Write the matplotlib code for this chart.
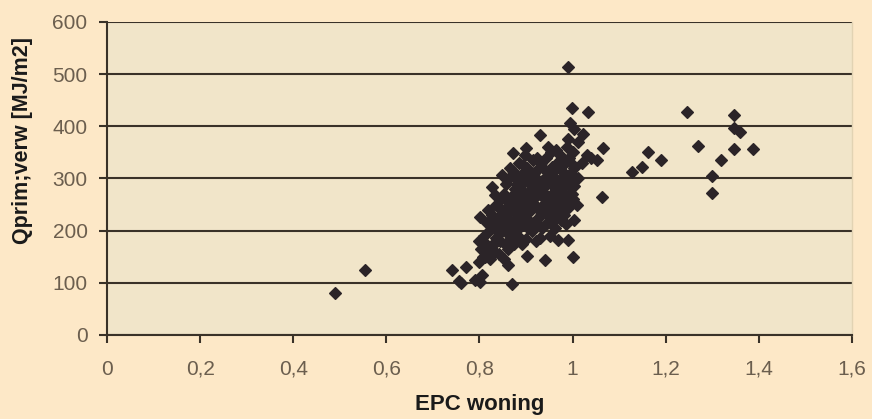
import matplotlib
matplotlib.use('Agg')
import matplotlib.pyplot as plt
from matplotlib.ticker import FuncFormatter, MultipleLocator

plt.rcParams['font.family'] = ['Liberation Sans', 'DejaVu Sans']

# 데이터 - 그림에서 읽은 값
epc_low = [0.49, 0.555, 0.74, 0.755, 0.76, 0.77, 0.79]
q_low = [80, 125, 125, 103, 100, 131, 105]

epc_core = [
    0.801, 0.805, 0.798, 0.808, 0.803, 0.800, 0.801,
    0.812, 0.815, 0.810, 0.817, 0.813,
    0.822, 0.825, 0.820, 0.827, 0.827,
    0.833, 0.835, 0.832, 0.836,
    0.842, 0.845, 0.840, 0.847, 0.848,
    0.852, 0.855, 0.851, 0.857, 0.853, 0.856,
    0.862, 0.861, 0.866, 0.864, 0.860, 0.867, 0.863, 0.865,
    0.870, 0.874, 0.872, 0.876, 0.871, 0.877, 0.873, 0.872,
    0.882, 0.885, 0.880, 0.886, 0.883, 0.881, 0.887, 0.884,
    0.891, 0.894, 0.890, 0.896, 0.892, 0.895, 0.893, 0.897,
    0.902, 0.900, 0.905, 0.903, 0.901, 0.906, 0.904, 0.902, 0.900,
    0.912, 0.915, 0.911, 0.916, 0.913, 0.917, 0.914,
    0.921, 0.925, 0.923, 0.920, 0.926, 0.922, 0.927, 0.924,
    0.930, 0.934, 0.932, 0.936, 0.931, 0.935, 0.933, 0.930,
    0.941, 0.944, 0.942, 0.946, 0.940, 0.945, 0.943, 0.947,
    0.952, 0.955, 0.951, 0.956, 0.953, 0.957, 0.954,
    0.962, 0.965, 0.961, 0.966, 0.963, 0.967, 0.964,
    0.969, 0.975, 0.972, 0.976, 0.971, 0.977, 0.973,
    0.990, 0.982, 0.985, 0.981, 0.986, 0.983, 0.987,
    0.992, 0.995, 0.991, 0.996, 0.993, 0.990, 0.994, 0.990,
    1.000, 1.002, 1.000, 1.004, 1.001, 1.003, 1.000, 1.002, 0.998,
    1.010, 1.012, 1.011,
    1.020, 1.022,
    1.030, 1.033,
    1.040,
    1.052,
]
q_core = [
    102, 115, 140, 150, 165, 180, 226,
    150, 160, 190, 215, 175,
    145, 170, 200, 230, 284,
    160, 185, 205, 250,
    155, 195, 225, 260, 306,
    145, 175, 210, 240, 270, 290,
    134, 165, 200, 220, 245, 265, 300, 320,
    98, 175, 210, 235, 255, 280, 315, 349,
    190, 205, 225, 245, 265, 290, 305, 330,
    175, 210, 230, 250, 270, 295, 325, 345,
    151, 184, 220, 235, 255, 275, 300, 320, 358,
    200, 215, 240, 260, 285, 310, 335,
    180, 225, 245, 265, 280, 300, 320, 340,
    186, 205, 230, 250, 270, 295, 330, 383,
    144, 215, 240, 260, 285, 305, 340, 360,
    190, 225, 250, 270, 290, 315, 350,
    205, 235, 255, 275, 300, 330, 355,
    182, 220, 245, 270, 295, 315, 345,
    182, 230, 260, 285, 305, 330, 360,
    245, 270, 290, 310, 340, 375, 406, 513,
    150, 220, 260, 285, 300, 320, 350, 395, 435,
    250, 300, 370,
    330, 385,
    345, 427,
    340,
    335,
]

# 가운데 밀집 구역 보충
epc_fill = [
    0.826, 0.838, 0.846, 0.858, 0.868, 0.878, 0.888, 0.898, 0.908,
    0.918, 0.928, 0.938, 0.948, 0.958, 0.968, 0.978, 0.988, 0.998,
    0.834, 0.856, 0.876, 0.896, 0.916, 0.936, 0.956, 0.976, 0.996,
    0.845, 0.865, 0.885, 0.905, 0.925, 0.945, 0.965, 0.985,
    0.818, 0.879, 0.909, 0.939, 0.959, 0.979,
]
q_fill = [
    215, 180, 240, 228, 250, 237, 282, 262, 248,
    272, 240, 262, 242, 287, 262, 250, 300, 270,
    268, 258, 300, 310, 292, 275, 322, 278, 330,
    180, 190, 215, 205, 212, 232, 225, 212,
    240, 272, 290, 318, 238, 248,
]

epc_high = [1.066, 1.063, 1.127, 1.149, 1.162, 1.19, 1.245, 1.27, 1.30, 1.30,
            1.319, 1.347, 1.347, 1.36, 1.347, 1.387]
q_high = [358, 264, 312, 322, 351, 335, 427, 362, 305, 272,
          335, 421, 397, 389, 356, 356]

epc = epc_low + epc_core + epc_fill + epc_high
qprim = q_low + q_core + q_fill + q_high

# 차트 그리기
fig = plt.figure(figsize=(8.72, 4.19), dpi=100, facecolor='#FDE8C7')
ax = fig.add_axes([0.1227, 0.2005, 0.8543, 0.747])
ax.set_facecolor('#F1E5C9')

ax.plot(epc, qprim, linestyle='none', marker='D', markersize=5.8,
        color='#2B2428', markeredgewidth=0.9, markeredgecolor='#2B2428', zorder=3)

ax.set_xlim(0, 1.6)
ax.set_ylim(0, 600)
ax.xaxis.set_major_locator(MultipleLocator(0.2))
ax.yaxis.set_major_locator(MultipleLocator(100))
ax.xaxis.set_major_formatter(FuncFormatter(lambda v, p: f'{v:g}'.replace('.', ',')))

ax.grid(axis='y', color='#3A3228', linewidth=1.5)
ax.set_axisbelow(True)

for s in ['left', 'bottom']:
    ax.spines[s].set_color('#3A3228')
    ax.spines[s].set_linewidth(1.5)
ax.spines['top'].set_visible(False)
ax.spines['right'].set_color('#E2D3B3')
ax.spines['right'].set_linewidth(1)

ax.tick_params(direction='out', length=6, width=1.5, color='#3A3228',
               labelcolor='#6B5E4E', labelsize=15)
ax.tick_params(axis='x', pad=12)
ax.tick_params(axis='y', pad=8)

ax.set_xlabel('EPC woning', fontsize=16, fontweight='bold', color='#1A1A1A')
ax.set_ylabel('Qprim;verw [MJ/m2]', fontsize=15.5, fontweight='bold', color='#1A1A1A')
ax.xaxis.set_label_coords(0.5, -0.19)
ax.yaxis.set_label_coords(-0.099, 0.62)

fig.savefig('out.png', dpi=100, facecolor=fig.get_facecolor())
